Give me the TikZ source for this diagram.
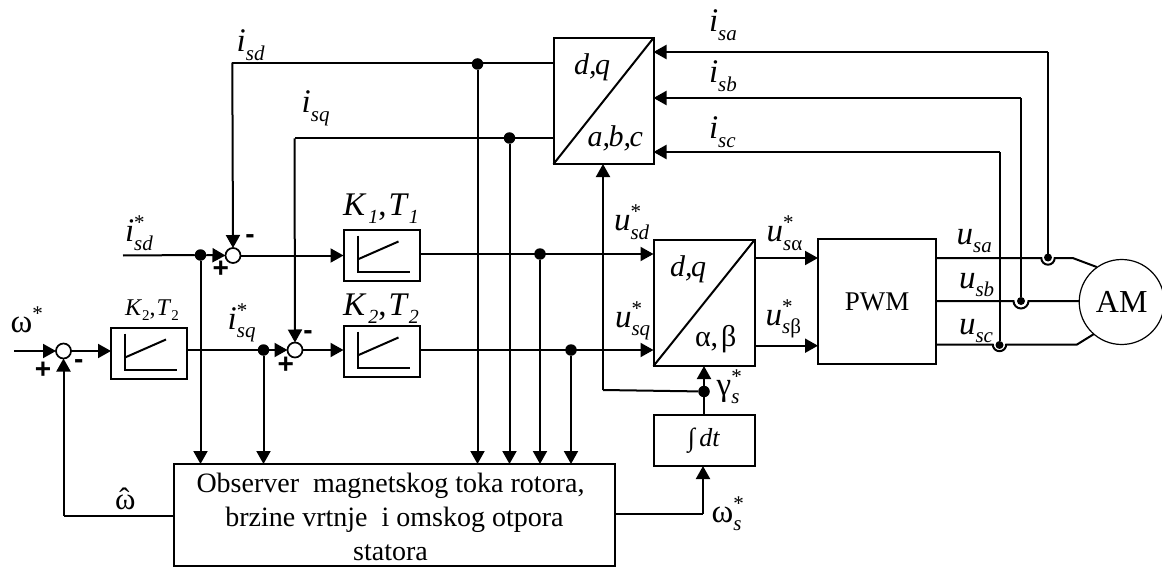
\documentclass[tikz,border=0pt]{standalone}
\usepackage{fontspec}
\setmainfont{Liberation Serif}
\newfontfamily\signfont{Liberation Sans}
\usetikzlibrary{arrows.meta,calc}
\newcommand{\fsz}[1]{\fontsize{#1}{#1}\selectfont}
% main symbol, subscript, star
\newcommand{\sym}[3]{{\fsz{33}#1}\makebox[0pt][l]{\raisebox{-8.5pt}{\fsz{21}#2}}\raisebox{12pt}{\fsz{21}#3}}
\newcommand{\cm}{,\kern-1.5pt}
\tikzset{
  x=1pt,y=-1pt,
  wire/.style={line width=2pt,line cap=butt,line join=miter},
  arr/.style={wire,-{Triangle[length=13pt,width=14pt]}},
  blk/.style={draw,line width=2pt,inner sep=0pt,outer sep=0pt},
  sumc/.style={circle,draw,line width=1.7pt,minimum size=15pt,inner sep=0pt,outer sep=0pt,fill=white},
  dot/.style={circle,fill=black,minimum size=11.5pt,inner sep=0pt,outer sep=0pt},
  lab/.style={anchor=base west,inner sep=0pt,outer sep=0pt},
  sign/.style={inner sep=0pt,outer sep=0pt,font=\signfont\bfseries\fsz{28}},
}
\begin{document}
\begin{tikzpicture}
\useasboundingbox (0,0) rectangle (1162,567);
% blocks
\node[blk,minimum width=100pt,minimum height=126pt] (tb) at (603.5,101) {};
\node[blk,minimum width=101pt,minimum height=126pt] (ab) at (704,303) {};
\node[blk,minimum width=118pt,minimum height=125pt,font=\fsz{27}] (pwm) at (877,301.7) {PWM};
\node[blk,minimum width=101pt,minimum height=51pt,font=\fsz{26}] (int) at (704,440.5) {∫\,\textit{dt}};
\node[blk,minimum width=441pt,minimum height=102pt,align=center,font=\fsz{28}] (obs) at (394.5,515) {\rule{0pt}{24pt}Observer\ \ magnetskog toka rotora,\hspace*{8pt}\\[6pt]brzine vrtnje\ \ i omskog otpora\hspace*{8pt}\\[6pt]statora\hspace*{8pt}};
\node[blk,minimum width=76pt,minimum height=51pt] (g0) at (149,353) {};
\node[blk,minimum width=76pt,minimum height=51pt] (g1) at (381.5,255) {};
\node[blk,minimum width=76pt,minimum height=51pt] (g2) at (381.5,351) {};
\node[circle,draw,line width=1.2pt,minimum size=85pt,inner sep=0pt,outer sep=0pt,font=\fsz{32}] (am) at (1121.7,302) {AM};
% summing points
\node[sumc] (s0) at (63.5,351) {};
\node[sumc] (s1) at (233,255.5) {};
\node[sumc] (s2) at (295,350) {};
% junctions
\node[dot] (j1) at (477.5,64) {};
\node[dot] (j2) at (509.5,138) {};
\node[dot] (j3) at (540,254) {};
\node[dot] (j4) at (571,350) {};
\node[dot] (j5) at (200.5,255) {};
\node[dot] (j6) at (263.5,350) {};
\node[dot] (j7) at (704,391.5) {};
\node[dot,minimum size=8pt] (ja) at (1048,257.5) {};
\node[dot,minimum size=8pt] (jb) at (1021,301) {};
\node[dot,minimum size=8pt] (jc) at (999.5,345) {};
% free ends
\coordinate (in0) at (14,351);
\coordinate (in1) at (123,255.5);
\coordinate (c1) at (232.3,62.7);
\coordinate (c2) at (294.5,138.3);
\coordinate (c3) at (603,390);
\coordinate (c4) at (63.5,515.7);
\coordinate (c5) at (703,514);
\coordinate (ia) at (1048,52);
\coordinate (ib) at (1021,98);
\coordinate (ic) at (999.5,152);
\coordinate (ka) at (1072.7,258);
\coordinate (kb) at (1096.7,267);
\coordinate (kc) at (1077,344.5);
\coordinate (kd) at (1094,334);
% stator current feedback
\draw[wire] (tb.west |- c1) -- (c1);
\draw[wire] (tb.west |- c2) -- (c2);
\draw[arr] (c1) -- (s1.north);
\draw[arr] (c2) -- (s2.north);
\draw[arr] (j1) -- (j1 |- obs.north);
\draw[arr] (j2) -- (j2 |- obs.north);
\draw[arr] (j3) -- (j3 |- obs.north);
\draw[arr] (j4) -- (j4 |- obs.north);
\draw[arr] (j5) -- (j5 |- obs.north);
\draw[arr] (j6) -- (j6 |- obs.north);
% forward path
\draw[arr] (in0) -- (s0.west);
\draw[arr] (s0.east) -- (g0.west |- s0);
\draw[wire] (g0.east |- s2) -- (j6);
\draw[arr] (j6) -- (s2.west);
\draw[arr] (s2.east) -- (g2.west |- s2);
\draw[wire] (in1) -- (j5);
\draw[arr] (j5) -- (s1.west);
\draw[arr] (s1.east) -- (g1.west |- s1);
\draw[arr] (g1.east |- j3) -- (ab.west |- j3);
\draw[arr] (g2.east |- j4) -- (ab.west |- j4);
\draw[arr] (ab.east |- 0,258) -- (pwm.west |- 0,258);
\draw[arr] (ab.east |- 0,345.7) -- (pwm.west |- 0,345.7);
% angle and speed
\draw[arr] (int.north) -- (ab.south);
\draw[wire] (j7) -- (c3);
\draw[arr] (c3) -- (c3 |- tb.south);
\draw[wire] (obs.east |- c5) -- (c5);
\draw[arr] (c5) -- (c5 |- int.south);
\draw[wire] (obs.west |- c4) -- (c4);
\draw[arr] (c4) -- (s0.south);
% measured currents
\draw[wire] (ja) -- (ia);
\draw[wire] (jb) -- (ib);
\draw[wire] (jc) -- (ic);
\draw[arr] (ia) -- (tb.east |- ia);
\draw[arr] (ib) -- (tb.east |- ib);
\draw[arr] (ic) -- (tb.east |- ic);
% motor supply with bumps
\draw[wire] (pwm.east |- ka) -- (1041.3,258) arc (180:0:6.7) -- (ka) -- (kb);
\draw[wire] (pwm.east |- jb) -- (1013.5,301) arc (180:0:7.5) -- (am.west |- jb);
\draw[wire] (pwm.east |- kc) -- (992.8,344.5) arc (180:0:6.7) -- (kc) -- (kd);
% transformer diagonals
\draw[wire] (tb.south west) -- (tb.north east);
\draw[wire] (ab.south west) -- (ab.north east);
% block glyphs
\foreach \g in {g0,g1,g2}{
  \draw[wire] ($(\g.north west)+(14,6)$) -- ($(\g.north west)+(14,42)$) -- ($(\g.north west)+(66,42)$);
  \draw[wire] ($(\g.north west)+(14,30)$) -- ($(\g.north west)+(55,12)$);
}
% labels
\node[lab] (t1) at (236.7,51.7) {\sym{\textit{i}}{\textit{sd}}{}};
\node[lab] (t2) at (301.7,113) {\sym{\textit{i}}{\textit{sq}}{}};
\node[lab] (t3) at (125,241.7) {\sym{\textit{i}}{\textit{sd}}{*}};
\node[lab] (t4) at (227.7,329) {\sym{\textit{i}}{\textit{sq}}{*}};
\node[lab] (t5) at (10.7,332) {\sym{ω}{}{*}};
\node[lab,font=\fsz{31}] (t6) at (115,509) {ω\kern-11pt\symbol{"0302}};
\node[lab] (t7) at (343,215) {{\fsz{33}\textit{K}}{\fsz{20}\hspace{2pt}\raisebox{-8pt}{\textit{1}}}{\fsz{33},\hspace{2pt}\textit{T}}{\fsz{20}\raisebox{-8pt}{\textit{1}}}};
\node[lab] (t8) at (343,315) {{\fsz{33}\textit{K}}{\fsz{20}\hspace{2pt}\raisebox{-8pt}{\textit{2}}}{\fsz{33},\hspace{2pt}\textit{T}}{\fsz{20}\raisebox{-8pt}{\textit{2}}}};
\node[lab] (t9) at (125,315.7) {{\fsz{24}\textit{K}}{\fsz{15}\raisebox{-5pt}{2}}{\fsz{24},\hspace{1pt}\textit{T}}{\fsz{15}\raisebox{-5pt}{2}}};
\node[lab,font=\fsz{30}] (t10) at (574,75) {\textit{d\cm q}};
\node[lab,font=\fsz{30}] (t11) at (587.7,146.7) {\textit{a\cm b\cm c}};
\node[lab,font=\fsz{30}] (t12) at (670,276.7) {\textit{d\cm q}};
\node[lab,font=\fsz{30}] (t13) at (695,346.7) {α,\kern3ptβ};
\node[lab] (t14) at (709,32) {\sym{\textit{i}}{\textit{sa}}{}};
\node[lab] (t15) at (709,82.7) {\sym{\textit{i}}{\textit{sb}}{}};
\node[lab] (t16) at (709,139) {\sym{\textit{i}}{\textit{sc}}{}};
\node[lab] (t17) at (614,230.7) {\sym{\textit{u}}{\textit{sd}}{*}};
\node[lab] (t18) at (615,327) {\sym{\textit{u}}{\textit{sq}}{*}};
\node[lab] (t19) at (766.7,241.7) {\sym{\textit{u}}{\textit{s}α}{*}};
\node[lab] (t20) at (765.7,325) {\sym{\textit{u}}{\textit{s}β}{*}};
\node[lab] (t21) at (956.7,244) {\sym{\textit{u}}{\textit{sa}}{}};
\node[lab] (t22) at (959,288) {\sym{\textit{u}}{\textit{sb}}{}};
\node[lab] (t23) at (959,334) {\sym{\textit{u}}{\textit{sc}}{}};
\node[lab] (t24) at (716.7,395) {\sym{γ}{\textit{s}}{*}};
\node[lab] (t25) at (711.7,522) {\sym{ω}{\textit{s}}{*}};
% signs
\node[sign] (p0) at (43,370) {+};
\node[sign] (m0) at (78.7,364) {-};
\node[sign] (p1) at (220.7,269) {+};
\node[sign] (m1) at (250,239) {-};
\node[sign] (p2) at (285.7,365.7) {+};
\node[sign] (m2) at (308,335) {-};
\end{tikzpicture}
\end{document}
